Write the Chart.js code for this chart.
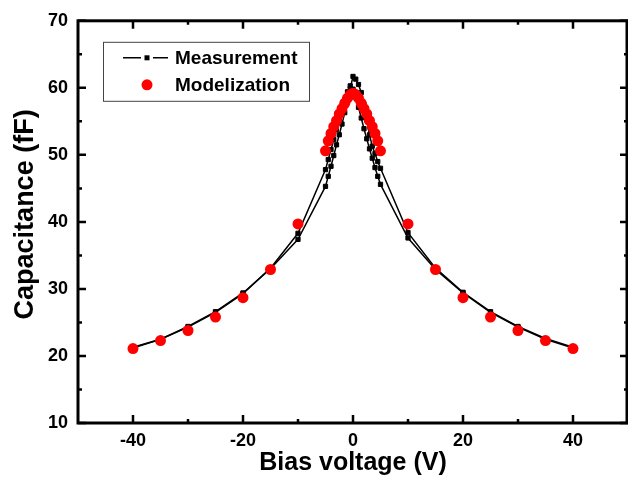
<!DOCTYPE html>
<html lang="en">
<head>
    <meta charset="UTF-8">
    <title>Capacitance vs Bias voltage</title>
    <script src="https://cdn.jsdelivr.net/npm/chart.js"></script>
    <style>
        body { margin: 0; background: #fff; }
        #wrap { width: 628px; height: 478px; position: relative; }
    </style>
</head>
<body>
    <div id="wrap"><canvas id="cvChart"></canvas></div>

    <script>
        // bias voltage points (V), shared by all series
        const voltage = [-40, -35, -30, -25, -20, -15, -10,
            -5, -4.5, -4, -3.5, -3, -2.5, -2, -1.5, -1, -0.5, 0, 0.5, 1, 1.5, 2, 2.5, 3, 3.5, 4, 4.5, 5,
            10, 15, 20, 25, 30, 35, 40];

        // measured capacitance (fF), sweep -40 -> 40
        const measSweepUp = [21.2, 22.5, 24.4, 26.6, 29.4, 33.0, 37.4,
            45.3, 46.8, 48.3, 49.9, 51.5, 53.0, 54.6, 56.3, 58.0, 59.9, 61.7, 61.3, 60.5, 59.3, 57.5, 55.2, 53.0, 51.3, 50.2, 49.0, 48.0,
            38.4, 33.1, 29.5, 26.6, 24.4, 22.6, 21.3];

        // measured capacitance (fF), sweep 40 -> -40
        const measSweepDown = [21.3, 22.5, 24.3, 26.5, 29.3, 33.1, 38.3,
            47.8, 49.3, 50.8, 52.3, 53.8, 55.3, 56.8, 58.2, 59.4, 60.3, 59.8, 58.6, 57.1, 55.5, 53.9, 52.4, 50.9, 49.5, 48.1, 46.8, 45.6,
            37.6, 32.9, 29.4, 26.5, 24.3, 22.5, 21.2];

        // model capacitance (fF)
        const modelCap = [21.1, 22.3, 23.8, 25.8, 28.7, 32.9, 39.7,
            50.6, 52.1, 53.2, 54.2, 55.1, 56.1, 56.9, 57.7, 58.45, 59.0, 59.2, 59.0, 58.45, 57.7, 56.9, 56.1, 55.1, 54.2, 53.2, 52.1, 50.6,
            39.7, 32.9, 28.7, 25.8, 23.8, 22.3, 21.1];

        const xTicks = [-40, -20, 0, 20, 40];
        const xMinor = [-30, -10, 10, 30];
        const yTicks = [10, 20, 30, 40, 50, 60, 70];
        const yMinor = [15, 25, 35, 45, 55, 65];

        const pts = arr => voltage.map((v, i) => ({ x: v, y: arr[i] }));
        const boldFont = size => ({ family: "'Liberation Sans', Arial, sans-serif", size: size, weight: 'bold' });

        // box with inward ticks on every side
        const framePlugin = {
            id: 'frame',
            afterDraw(chart) {
                const { ctx, chartArea: a, scales } = chart;
                ctx.save();
                ctx.strokeStyle = '#000';
                ctx.lineWidth = 3;
                ctx.strokeRect(a.left, a.top, a.right - a.left - 1, a.bottom - a.top);
                ctx.lineWidth = 2.5;
                const tick = (vals, len) => {
                    vals.forEach(v => {
                        const px = scales.x.getPixelForValue(v);
                        ctx.beginPath();
                        ctx.moveTo(px, a.bottom); ctx.lineTo(px, a.bottom - len);
                        ctx.moveTo(px, a.top); ctx.lineTo(px, a.top + len);
                        ctx.stroke();
                    });
                };
                const ytick = (vals, len) => {
                    vals.forEach(v => {
                        const py = scales.y.getPixelForValue(v);
                        ctx.beginPath();
                        ctx.moveTo(a.left, py); ctx.lineTo(a.left + len, py);
                        ctx.moveTo(a.right, py); ctx.lineTo(a.right - len, py);
                        ctx.stroke();
                    });
                };
                tick(xTicks, 8); tick(xMinor, 4);
                ytick(yTicks, 8); ytick(yMinor, 4);
                ctx.restore();
            }
        };

        // legend box inside the plot, upper left
        const legendPlugin = {
            id: 'boxLegend',
            afterDraw(chart) {
                const { ctx, chartArea: a } = chart;
                const bx = a.left + 25, by = a.top + 21;
                ctx.save();
                ctx.strokeStyle = '#444';
                ctx.lineWidth = 1;
                ctx.strokeRect(bx + 0.5, by + 0.5, 206, 59);

                const r1 = by + 16, r2 = by + 43, sx = bx + 44;
                ctx.strokeStyle = '#000';
                ctx.lineWidth = 1.5;
                ctx.beginPath();
                ctx.moveTo(bx + 20, r1); ctx.lineTo(sx - 6, r1);
                ctx.moveTo(sx + 6, r1); ctx.lineTo(bx + 65, r1);
                ctx.stroke();
                ctx.fillStyle = '#000';
                ctx.fillRect(sx - 2.5, r1 - 2.5, 5, 5);

                ctx.fillStyle = '#ff0000';
                ctx.beginPath();
                ctx.arc(sx, r2, 5.5, 0, Math.PI * 2);
                ctx.fill();

                ctx.fillStyle = '#000';
                ctx.font = "bold 19px 'Liberation Sans', Arial, sans-serif";
                ctx.textBaseline = 'middle';
                ctx.fillText('Measurement', bx + 72, r1 + 1);
                ctx.fillText('Modelization', bx + 72, r2 + 1);
                ctx.restore();
            }
        };

        const measStyle = {
            borderColor: '#000',
            backgroundColor: '#000',
            borderWidth: 1.5,
            pointStyle: 'rect',
            pointRadius: 3,
            pointBorderWidth: 1,
            pointBorderColor: '#000',
            pointBackgroundColor: '#000',
            showLine: true,
            tension: 0
        };

        new Chart(document.getElementById('cvChart'), {
            type: 'scatter',
            data: {
                datasets: [
                    {
                        label: 'Modelization',
                        data: pts(modelCap),
                        showLine: false,
                        pointStyle: 'circle',
                        pointRadius: 5.5,
                        pointBorderWidth: 0,
                        pointBackgroundColor: '#ff0000',
                        backgroundColor: '#ff0000'
                    },
                    Object.assign({ label: 'Measurement', data: pts(measSweepUp) }, measStyle),
                    Object.assign({ label: 'Measurement (return)', data: pts(measSweepDown) }, measStyle)
                ]
            },
            options: {
                responsive: true,
                maintainAspectRatio: false,
                animation: false,
                layout: { autoPadding: false, padding: { top: 19, right: 0, left: 0, bottom: 0 } },
                plugins: {
                    legend: { display: false },
                    tooltip: { enabled: false }
                },
                scales: {
                    x: {
                        type: 'linear',
                        min: -50,
                        max: 50,
                        afterBuildTicks: s => { s.ticks = xTicks.map(v => ({ value: v })); },
                        afterFit: s => { s.height = 55; },
                        grid: { display: false, drawTicks: false },
                        border: { display: false },
                        ticks: { color: '#000', font: boldFont(18), padding: 7, maxRotation: 0 },
                        title: { display: true, text: 'Bias voltage (V)', color: '#000', font: boldFont(25), padding: { top: 0, bottom: 0 } }
                    },
                    y: {
                        type: 'linear',
                        min: 10,
                        max: 70,
                        afterBuildTicks: s => { s.ticks = yTicks.map(v => ({ value: v })); },
                        afterFit: s => { s.width = 78; },
                        grid: { display: false, drawTicks: false },
                        border: { display: false },
                        ticks: { color: '#000', font: boldFont(18), padding: 10 },
                        title: { display: true, text: '  Capacitance (fF)', color: '#000', font: boldFont(27), padding: { top: 9, bottom: 0 } }
                    }
                }
            },
            plugins: [framePlugin, legendPlugin]
        });
    </script>
</body>
</html>
